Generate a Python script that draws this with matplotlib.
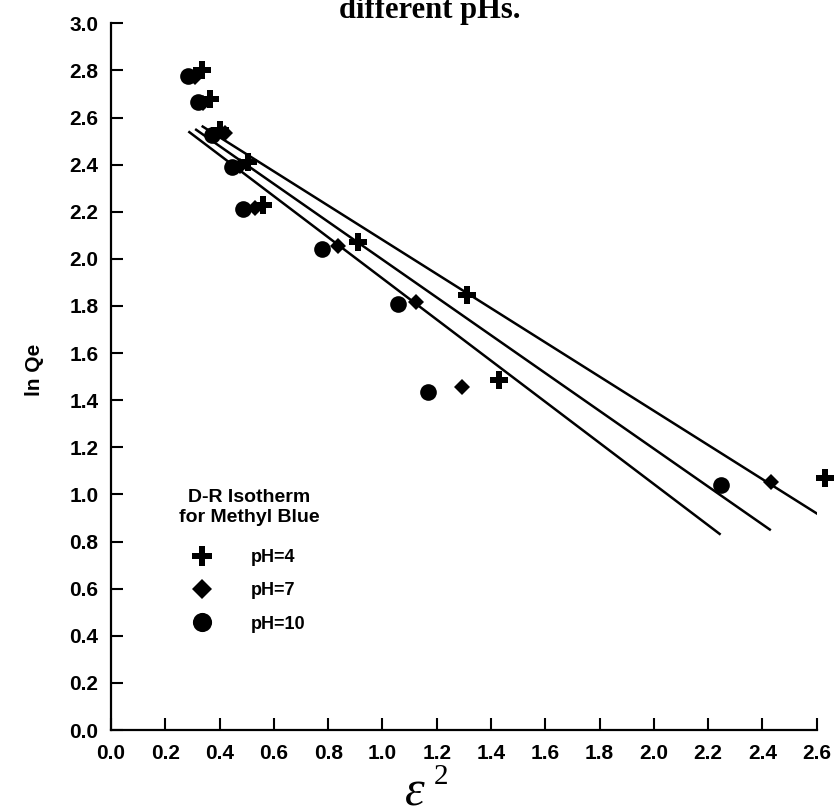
import matplotlib
matplotlib.use("Agg")
import matplotlib.pyplot as plt
import numpy as np

# ---- data ----
ph4_x = [0.334, 0.365, 0.400, 0.506, 0.561, 0.911, 1.311, 1.431, 2.631]
ph4_y = [2.800, 2.677, 2.545, 2.410, 2.227, 2.071, 1.847, 1.485, 1.071]
ph7_x = [0.310, 0.340, 0.420, 0.475, 0.531, 0.835, 1.124, 1.292, 2.431]
ph7_y = [2.770, 2.660, 2.535, 2.395, 2.216, 2.054, 1.818, 1.454, 1.052]
ph10_x = [0.285, 0.322, 0.371, 0.445, 0.488, 0.776, 1.059, 1.167, 2.246]
ph10_y = [2.777, 2.667, 2.525, 2.390, 2.213, 2.043, 1.809, 1.433, 1.038]

# linear fits drawn in the reference (slope, intercept)
fit_slopes = [-0.726, -0.803, -0.873]
fit_intercepts = [2.807, 2.800, 2.790]

labels = ["pH=4", "pH=7", "pH=10"]
x_ticks = [0.0, 0.2, 0.4, 0.6, 0.8, 1.0, 1.2, 1.4, 1.6, 1.8, 2.0, 2.2, 2.4, 2.6]
y_ticks = [0.0, 0.2, 0.4, 0.6, 0.8, 1.0, 1.2, 1.4, 1.6, 1.8, 2.0, 2.2, 2.4, 2.6, 2.8, 3.0]

SANS = ["Liberation Sans", "DejaVu Sans"]
SERIF = ["Liberation Serif", "DejaVu Serif"]

fig = plt.figure(figsize=(8.36, 8.10), dpi=100)
ax = fig.add_axes([111 / 836, 80 / 810, (816.7 - 111) / 836, (730 - 23.3) / 810])

series = [(ph4_x, ph4_y, "P", 13), (ph7_x, ph7_y, "D", 8.5), (ph10_x, ph10_y, "o", 12)]
handles = []
for (xs, ys, mk, ms), lab, m, b in zip(series, labels, fit_slopes, fit_intercepts):
    xs = np.asarray(xs)
    xl = np.array([xs.min(), xs.max()])
    ax.plot(xl, m * xl + b, color="black", lw=1.8, solid_capstyle="butt")
    h, = ax.plot(xs, ys, linestyle="none", marker=mk, markersize=ms,
                 color="black", markeredgewidth=0, clip_on=False, label=lab)
    handles.append(h)

ax.set_xlim(0, 2.6)
ax.set_ylim(0, 3.0)
ax.set_xticks(x_ticks)
ax.set_yticks(y_ticks)
ax.set_xticklabels([f"{v:.1f}" for v in x_ticks])
ax.set_yticklabels([f"{v:.1f}" for v in y_ticks])
for s in ["top", "right"]:
    ax.spines[s].set_visible(False)
for s in ["left", "bottom"]:
    ax.spines[s].set_linewidth(1.6)
ax.tick_params(axis="both", direction="in", length=8.5, width=1.5, labelsize=15)
ax.tick_params(axis="x", pad=10)
ax.tick_params(axis="y", pad=9)
for lbl in ax.get_xticklabels() + ax.get_yticklabels():
    lbl.set_fontfamily(SANS)
    lbl.set_fontweight("bold")

fig.text(35 / 836, 1 - 370 / 810, "ln Qe", rotation=90, ha="center", va="center",
         fontsize=15, fontweight="bold", family=SANS)

# x label: epsilon squared
fig.text(415 / 836, 1 - 806 / 810, "\u03b5", ha="center", va="baseline",
         fontsize=36, style="italic", family=SERIF)
fig.text(441 / 836, 1 - 777 / 810, "2", ha="center", va="center",
         fontsize=21, family=SERIF)

# title (only the second line is visible in the reference)
fig.text(430 / 836, 1 - 18 / 810, "different pHs.", ha="center", va="baseline",
         fontsize=22, fontweight="bold", family=SERIF)

leg = ax.legend(handles=handles, labels=labels, title="D-R Isotherm\nfor Methyl Blue",
                loc="upper center", bbox_to_anchor=(249 / 836, 1 - 480 / 810),
                bbox_transform=fig.transFigure, frameon=False, numpoints=1,
                handlelength=1.0, handletextpad=2.2, labelspacing=0.9,
                borderpad=0, markerscale=1.15,
                prop={"family": SANS, "weight": "bold", "size": 13},
                title_fontproperties={"family": SANS, "weight": "bold", "size": 14})
leg.get_title().set_multialignment("center")
leg._legend_box.sep = 17

fig.savefig("out.png", dpi=100)
